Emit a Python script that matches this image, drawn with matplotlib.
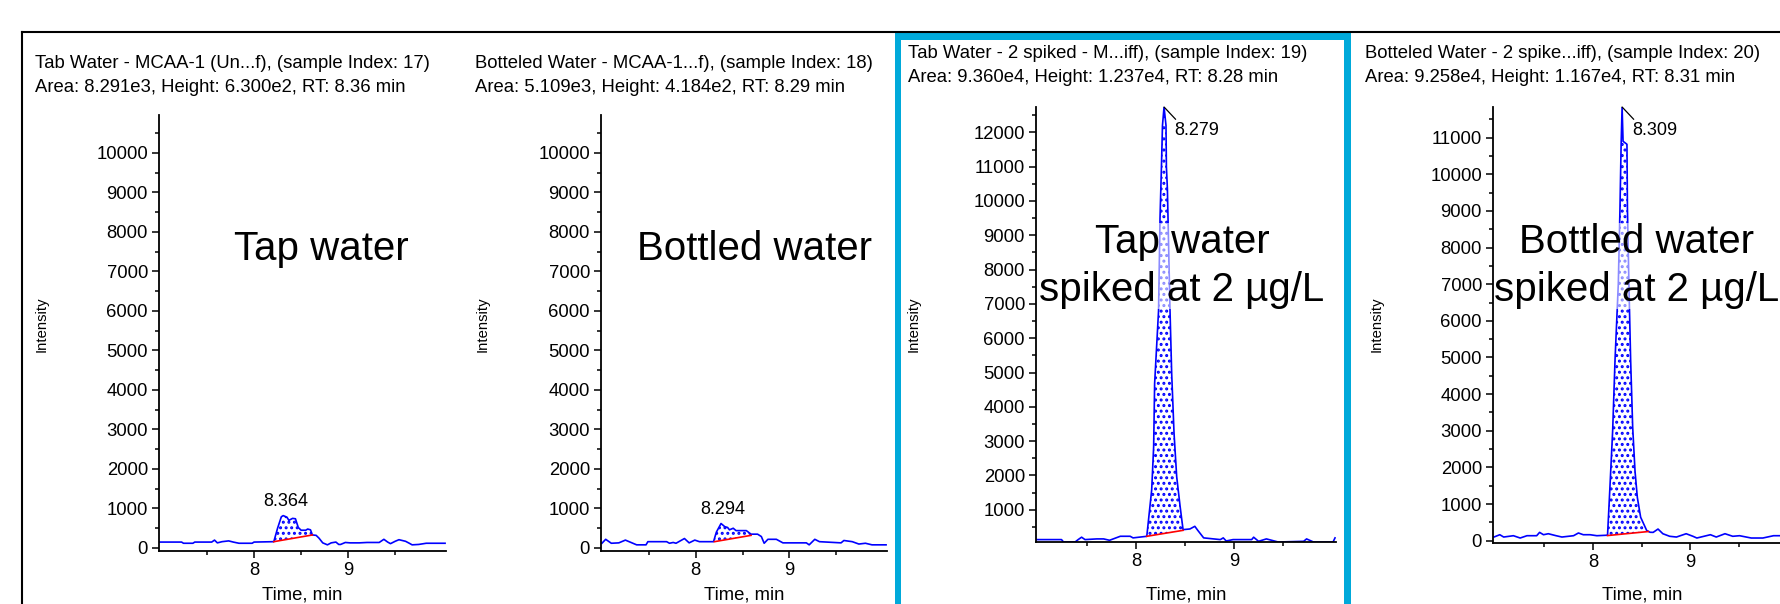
import numpy as np
import matplotlib
matplotlib.use("Agg")
import matplotlib.pyplot as plt
from matplotlib.lines import Line2D
from matplotlib.patches import Rectangle
from matplotlib.ticker import FixedLocator, MultipleLocator

plt.rcParams['font.family'] = ['Liberation Sans', 'DejaVu Sans']
plt.rcParams['hatch.linewidth'] = 1.4

W, H = 1781, 604

# Chromatogram traces (time in min, intensity in cps)
t_tap = [7.00, 7.23, 7.25, 7.35, 7.37, 7.55, 7.58, 7.61, 7.66, 7.73, 7.78, 7.84, 7.98, 8.00,
         8.21, 8.25, 8.29, 8.31, 8.35, 8.37, 8.41, 8.44, 8.47, 8.50, 8.55, 8.57, 8.60, 8.62,
         8.66, 8.69, 8.73, 8.78, 8.82, 8.87, 8.90, 8.92, 8.97, 9.02, 9.12, 9.20, 9.33, 9.38,
         9.42, 9.45, 9.50, 9.54, 9.61, 9.65, 9.68, 9.75, 9.83, 10.03]
i_tap = [150, 150, 120, 120, 150, 150, 200, 130, 160, 180, 150, 120, 120, 150,
         160, 500, 790, 820, 780, 700, 750, 740, 520, 450, 450, 480, 460, 330,
         320, 250, 130, 80, 130, 150, 90, 90, 140, 130, 130, 140, 140, 220,
         150, 110, 170, 210, 170, 120, 80, 90, 120, 120]

t_bot = [7.00, 7.04, 7.10, 7.18, 7.25, 7.32, 7.37, 7.47, 7.49, 7.69, 7.72, 7.76, 7.79, 7.88,
         7.93, 7.99, 8.04, 8.19, 8.22, 8.27, 8.31, 8.34, 8.36, 8.40, 8.43, 8.54, 8.59, 8.66,
         8.70, 8.73, 8.77, 8.86, 8.93, 9.18, 9.21, 9.27, 9.32, 9.55, 9.58, 9.67, 9.74, 9.81,
         9.88, 10.03]
i_bot = [120, 220, 120, 130, 200, 130, 80, 80, 160, 160, 120, 140, 120, 240,
         130, 200, 160, 160, 400, 620, 540, 520, 460, 500, 440, 440, 350, 350,
         290, 120, 220, 220, 130, 130, 80, 220, 160, 130, 190, 160, 100, 120,
         80, 80]

t_tap_sp = [6.99, 7.24, 7.26, 7.38, 7.41, 7.445, 7.48, 7.60, 7.67, 7.73, 7.84, 7.94, 7.97,
            8.11, 8.16, 8.18, 8.19, 8.23, 8.245, 8.26, 8.27, 8.286, 8.306, 8.31, 8.32, 8.347,
            8.364, 8.388, 8.415, 8.45, 8.48, 8.55, 8.60, 8.63, 8.69, 8.86, 8.89, 8.92, 8.99,
            9.18, 9.20, 9.25, 9.33, 9.45, 9.71, 9.74, 9.81, 10.01, 10.03]
i_tap_sp = [130, 130, 63, 63, 130, 200, 130, 150, 150, 110, 227, 227, 180,
            226, 1580, 2835, 4680, 6800, 9500, 11050, 12200, 12740, 12200, 11000, 10370, 6800,
            4970, 3230, 1965, 1096, 420, 440, 517, 400, 180, 130, 180, 90, 130,
            130, 200, 80, 150, 60, 80, 150, 60, 60, 180]

t_bot_sp = [6.98, 7.04, 7.08, 7.18, 7.25, 7.32, 7.42, 7.45, 7.49, 7.54, 7.62, 7.68, 7.80,
            7.85, 7.90, 7.97, 8.04, 8.15, 8.175, 8.203, 8.227, 8.261, 8.278, 8.29, 8.30, 8.31,
            8.35, 8.355, 8.37, 8.388, 8.409, 8.433, 8.457, 8.491, 8.553, 8.588, 8.62, 8.67,
            8.72, 8.79, 8.86, 8.96, 9.03, 9.07, 9.21, 9.27, 9.36, 9.44, 9.51, 9.63, 9.75,
            9.86, 10.04]
i_bot_sp = [100, 163, 100, 136, 73, 136, 136, 227, 163, 190, 136, 100, 136,
            210, 163, 163, 136, 150, 1478, 3020, 4925, 7012, 9053, 10820, 11837, 10900,
            10820, 9053, 7012, 4925, 3100, 1900, 1180, 640, 280, 230, 227, 318,
            190, 120, 100, 190, 120, 73, 163, 100, 190, 120, 136, 73, 73,
            136, 136]

# integration baselines (start time, start int, end time, end int)
base_tap = (8.21, 160, 8.62, 330)
base_bot = (8.20, 160, 8.59, 320)
base_tap_sp = (8.11, 226, 8.48, 400)
base_bot_sp = (8.15, 140, 8.57, 250)

titles = [
    "Tab Water - MCAA-1 (Un...f), (sample Index: 17)\nArea: 8.291e3, Height: 6.300e2, RT: 8.36 min",
    "Botteled Water - MCAA-1...f), (sample Index: 18)\nArea: 5.109e3, Height: 4.184e2, RT: 8.29 min",
    "Tab Water - 2 spiked - M...iff), (sample Index: 19)\nArea: 9.360e4, Height: 1.237e4, RT: 8.28 min",
    "Botteled Water - 2 spike...iff), (sample Index: 20)\nArea: 9.258e4, Height: 1.167e4, RT: 8.31 min",
]
peak_labels = ["8.364", "8.294", "8.279", "8.309"]
big_labels = ["Tap water", "Bottled water", "Tap water\nspiked at 2 µg/L", "Bottled water\nspiked at 2 µg/L"]

traces = [(t_tap, i_tap, base_tap), (t_bot, i_bot, base_bot),
          (t_tap_sp, i_tap_sp, base_tap_sp), (t_bot_sp, i_bot_sp, base_bot_sp)]

# layout in pixels: axes left, right, top, bottom ; y limits ; y max tick
panels = [
    dict(box=(159, 446, 115, 551), xlim=(6.99, 10.04), ylim=(-76, 10962), ymax=10000,
         title_xy=(35, 63), ylab_x=49, big_xy=(321, 249)),
    dict(box=(601, 887, 115, 551), xlim=(6.99, 10.04), ylim=(-76, 10962), ymax=10000,
         title_xy=(475, 63), ylab_x=490, big_xy=(755, 249)),
    dict(box=(1036, 1336, 107, 542), xlim=(6.98, 10.04), ylim=(60, 12740), ymax=12000,
         title_xy=(908, 53), ylab_x=921, big_xy=(1182, 266)),
    dict(box=(1493, 1791, 107, 543), xlim=(6.97, 10.04), ylim=(-63, 11837), ymax=11000,
         title_xy=(1365, 53), ylab_x=1384, big_xy=(1637, 266)),
]

fig = plt.figure(figsize=(W / 100, H / 100), dpi=100)

# window frame: black top/left edges and the cyan selection box
fig.add_artist(Rectangle((895 / W, 0), 6 / W, 1 - 32 / H, transform=fig.transFigure,
                         facecolor='#00A9DA', edgecolor='none'))
fig.add_artist(Rectangle((1344 / W, 0), 7 / W, 1 - 32 / H, transform=fig.transFigure,
                         facecolor='#00A9DA', edgecolor='none'))
fig.add_artist(Rectangle((895 / W, 1 - 40 / H), 456 / W, 8 / H, transform=fig.transFigure,
                         facecolor='#00A9DA', edgecolor='none'))
fig.add_artist(Line2D([22 / W, 1], [1 - 32 / H, 1 - 32 / H], transform=fig.transFigure,
                      color='black', lw=1.5))
fig.add_artist(Line2D([22 / W, 22 / W], [0, 1 - 32 / H], transform=fig.transFigure,
                      color='black', lw=1.5))

for k, (p, (t, y, base)) in enumerate(zip(panels, traces)):
    l, r, top, bot = p['box']
    ax = fig.add_axes([l / W, 1 - bot / H, (r - l) / W, (bot - top) / H])
    t = np.array(t)
    y = np.array(y, dtype=float)

    # peak area: hatched between trace and the red baseline
    t0, b0, t1, b1 = base
    m = (t >= t0) & (t <= t1)
    tp = np.concatenate([[t0], t[m], [t1]])
    yp = np.interp(tp, t, y)
    bp = np.interp(tp, [t0, t1], [b0, b1])
    ax.fill_between(tp, bp, yp, facecolor='none', edgecolor='blue', hatch='...', linewidth=0)
    ax.plot(t, y, color='blue', lw=1.2)
    ax.plot([t0, t1], [b0, b1], color='red', lw=1.2)

    ax.set_xlim(*p['xlim'])
    ax.set_ylim(*p['ylim'])
    for s in ['top', 'right']:
        ax.spines[s].set_visible(False)
    for s in ['left', 'bottom']:
        ax.spines[s].set_linewidth(1.3)
    ax.xaxis.set_major_locator(FixedLocator([8, 9]))
    ax.xaxis.set_minor_locator(FixedLocator([7.5, 8.5, 9.5]))
    ax.yaxis.set_major_locator(MultipleLocator(1000))
    ax.yaxis.set_minor_locator(MultipleLocator(500))
    ax.tick_params(which='major', length=5, width=1.1, labelsize=13.3, pad=3)
    ax.tick_params(which='minor', length=3, width=1.1)
    ax.set_yticks([v for v in range(0, p['ymax'] + 1, 1000) if v >= p['ylim'][0]])

    ax.set_xlabel("Time, min", fontsize=13.3)
    ax.xaxis.set_label_coords(0.5, (bot - 587) / (bot - top))
    ax.set_ylabel("Intensity", fontsize=10.7)
    ax.yaxis.set_label_coords((p['ylab_x'] - l) / (r - l), (bot - 324) / (bot - top))

    # apex label
    ipk = np.argmax(y)
    if k < 2:
        ax.annotate(peak_labels[k], xy=(t[ipk], y[ipk]), xytext=(1.5, 4),
                    textcoords='offset points', ha='center', va='bottom', fontsize=13)
    else:
        ax.annotate(peak_labels[k], xy=(t[ipk], y[ipk]), xytext=(7, -17),
                    textcoords='offset points', ha='left', va='center', fontsize=13,
                    arrowprops=dict(arrowstyle='-', color='black', lw=0.9,
                                    shrinkA=0, shrinkB=0, relpos=(0.1, 1.0)))

    tx, ty = p['title_xy']
    fig.text(tx / W, 1 - ty / H, titles[k].split("\n")[0], fontsize=13.3, va='center', ha='left')
    fig.text(tx / W, 1 - (ty + 24) / H, titles[k].split("\n")[1], fontsize=13.3, va='center', ha='left')

    bx, by = p['big_xy']
    fig.text(bx / W, 1 - by / H, big_labels[k], fontsize=29, ha='center', va='center',
             linespacing=1.35,
             bbox=dict(facecolor='white', alpha=0.55, edgecolor='none', pad=0))

fig.savefig("out.png", dpi=100)
